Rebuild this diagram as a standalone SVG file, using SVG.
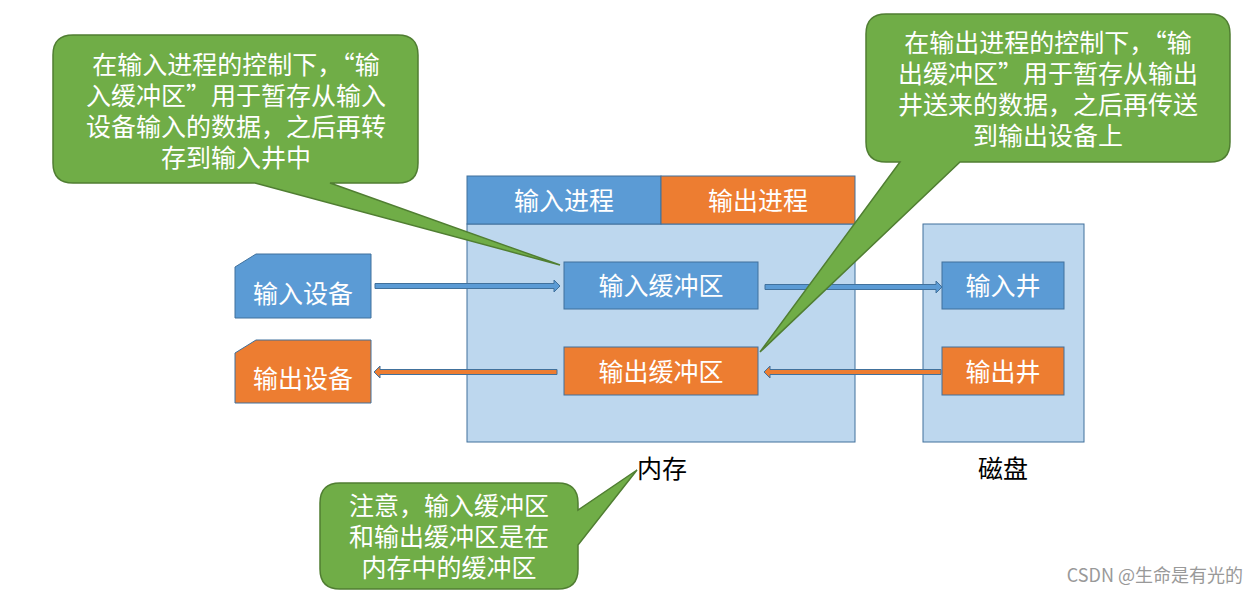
<svg xmlns="http://www.w3.org/2000/svg" width="1258" height="595" viewBox="0 0 1258 595">
<style>
text{font-family:"Noto Sans CJK SC","Liberation Sans",sans-serif;font-size:25px;text-anchor:middle}
.b{fill:#5B9BD5;stroke:#41719C;stroke-width:1}
.o{fill:#ED7D31;stroke:#41719C;stroke-width:1}
.m{fill:#BDD7EE;stroke:#41719C;stroke-width:1}
.g{fill:#70AD47;stroke:#507E32;stroke-width:1.5}
.w{fill:#fff}
.k{fill:#000}
.ab{fill:#5B9BD5;stroke:#41719C;stroke-width:1}
.ao{fill:#ED7D31;stroke:#41719C;stroke-width:1}
</style>
<rect width="1258" height="595" fill="#fff"/>
<g id="memory"><rect class="m" x="467" y="224" width="388" height="218"/><text class="k" x="662" y="478">内存</text></g>
<g id="disk"><rect class="m" x="923" y="224" width="161" height="218"/><text class="k" x="1003" y="478">磁盘</text></g>
<g id="inproc"><rect class="b" x="467" y="176" width="194" height="48"/><text class="w" x="564" y="210">输入进程</text></g>
<g id="outproc"><rect class="o" x="661" y="176" width="194" height="48"/><text class="w" x="758" y="210">输出进程</text></g>
<g id="inbuf"><rect class="b" x="564" y="262" width="194" height="47"/><text class="w" x="661" y="295">输入缓冲区</text></g>
<g id="outbuf"><rect class="o" x="564" y="347" width="194" height="48"/><text class="w" x="661" y="381">输出缓冲区</text></g>
<g id="inwell"><rect class="b" x="942" y="262" width="122" height="47"/><text class="w" x="1003" y="295">输入井</text></g>
<g id="outwell"><rect class="o" x="942" y="347" width="122" height="48"/><text class="w" x="1003" y="381">输出井</text></g>
<g id="indev"><path class="b" d="M235,267 L256,254 L371,254 L371,318 L235,318 Z"/><text class="w" x="303" y="303">输入设备</text></g>
<g id="outdev"><path class="o" d="M235,353 L256,340 L371,340 L371,403 L235,403 Z"/><text class="w" x="303" y="388">输出设备</text></g>
<g id="connectors">
<path class="ab" d="M375,283.5 L554,283.5 L554,280 L560,286 L554,292 L554,288.5 L375,288.5 Z"/>
<path class="ab" d="M765,284.5 L936,284.5 L936,281 L942,287 L936,293 L936,289.5 L765,289.5 Z"/>
<path class="ao" d="M557,369.5 L380,369.5 L380,366 L374,372 L380,378 L380,374.5 L557,374.5 Z"/>
<path class="ao" d="M941,369.5 L770,369.5 L770,366 L764,372 L770,378 L770,374.5 L941,374.5 Z"/>
</g>
<g id="callout1"><path class="g" d="M73,35 H398 Q418,35 418,55 V163 Q418,183 398,183 H330 L560,265 L255,183 H73 Q53,183 53,163 V55 Q53,35 73,35 Z"/>
<text class="w" x="236" y="74">在输入进程的控制下，“输</text><text class="w" x="236" y="105">入缓冲区”用于暂存从输入</text><text class="w" x="236" y="136">设备输入的数据，之后再转</text><text class="w" x="236" y="167">存到输入井中</text></g>
<g id="callout2"><path class="g" d="M886,14 H1210 Q1230,14 1230,34 V142 Q1230,162 1210,162 H960 L760,352 L900,162 H886 Q866,162 866,142 V34 Q866,14 886,14 Z"/>
<text class="w" x="1048" y="52">在输出进程的控制下，“输</text><text class="w" x="1048" y="83">出缓冲区”用于暂存从输出</text><text class="w" x="1048" y="114">井送来的数据，之后再传送</text><text class="w" x="1048" y="145">到输出设备上</text></g>
<g id="callout3"><path class="g" d="M340,483 H558 Q578,483 578,503 V510 L637,470 L578,545 V569 Q578,589 558,589 H340 Q320,589 320,569 V503 Q320,483 340,483 Z"/>
<text class="w" x="449" y="515">注意，输入缓冲区</text><text class="w" x="449" y="546">和输出缓冲区是在</text><text class="w" x="449" y="577">内存中的缓冲区</text></g>
<text x="1243" y="582" style="font-size:18px;fill:#999;text-anchor:end">CSDN @生命是有光的</text>
</svg>
